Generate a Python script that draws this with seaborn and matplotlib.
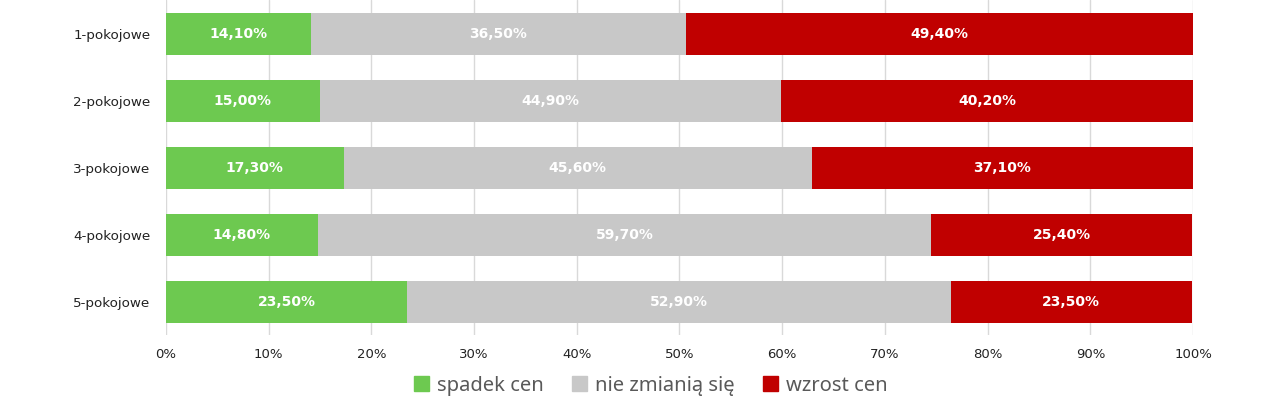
import matplotlib
matplotlib.use('Agg')
from matplotlib import pyplot as plt
from matplotlib.patches import Patch
import pandas as pd
import seaborn as sns

categories = ['1-pokojowe', '2-pokojowe', '3-pokojowe', '4-pokojowe', '5-pokojowe']
spadek = [14.1, 15.0, 17.3, 14.8, 23.5]
bez_zmian = [36.5, 44.9, 45.6, 59.7, 52.9]
wzrost = [49.4, 40.2, 37.1, 25.4, 23.5]
series_names = ['spadek cen', 'nie zmianią się', 'wzrost cen']
colors = ['#6DC950', '#C8C8C8', '#C00000']

df = pd.DataFrame({'kat': categories, 'spadek': spadek, 'bez': bez_zmian, 'wzrost': wzrost})
# cumulative sums for the layered stacked bars
df['c1'] = df['spadek']
df['c2'] = df['spadek'] + df['bez']
df['c3'] = df['c2'] + df['wzrost']

sns.set_style('white')
plt.rcParams['font.family'] = ['DejaVu Sans']
fig = plt.figure(figsize=(12.76, 4.17), dpi=100)
ax = fig.add_axes([0.130, 0.196, 0.805, 0.803])

w = 0.63
for col, c in zip(['c3', 'c2', 'c1'], colors[::-1]):
    sns.barplot(data=df, y='kat', x=col, color=c, width=w, saturation=1, linewidth=0,
                edgecolor='none', ax=ax, zorder=2)

# value labels in the middle of each segment
for i, row in df.iterrows():
    for start, val in [(0, row['spadek']), (row['c1'], row['bez']), (row['c2'], row['wzrost'])]:
        ax.text(start + val / 2, i, f'{val:.2f}%'.replace('.', ','), ha='center', va='center',
                color='white', fontweight='bold', fontsize=10, zorder=3)

ax.set_xlim(0, 100)
ax.set_ylim(4.5, -0.5)
ax.set_xticks(range(0, 101, 10))
ax.set_xticklabels([f'{t}%' for t in range(0, 101, 10)], fontsize=9.5, color='#222222')
ax.tick_params(axis='y', labelsize=9.7, labelcolor='#222222', length=0, pad=11)
ax.tick_params(axis='x', length=0, pad=9)
ax.set_xlabel('')
ax.set_ylabel('')
ax.grid(axis='x', color='#D9D9D9', linewidth=1, zorder=0)
ax.set_axisbelow(True)
for s in ax.spines.values():
    s.set_visible(False)

handles = [Patch(color=c, label=n) for c, n in zip(colors, series_names)]
fig.legend(handles=handles, loc='center', bbox_to_anchor=(0.510, 0.075), ncol=3, frameon=False,
           labelcolor='#595959', handlelength=0.75, handleheight=0.75,
           handletextpad=0.4, columnspacing=1.4, prop={'family': 'Noto Sans', 'size': 14.5})

fig.savefig('out.png', dpi=100)
